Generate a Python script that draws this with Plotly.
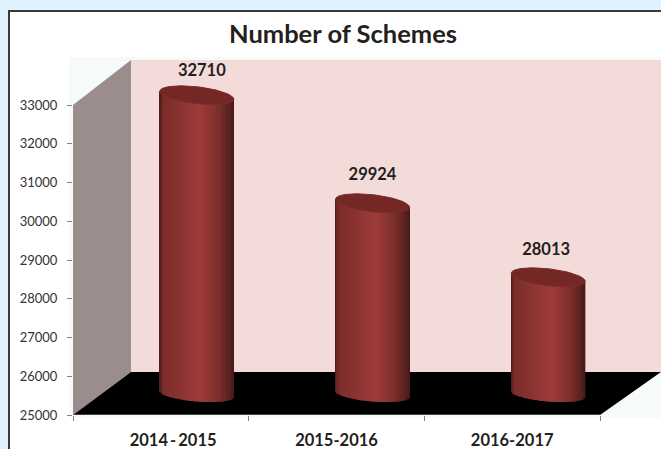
import numpy as np
import plotly.graph_objects as go

categories = ["2014\u2009-\u20092015", "2015-2016", "2016-2017"]
schemes = [32710, 29924, 28013]
y_ticks = [25000, 26000, 27000, 28000, 29000, 30000, 31000, 32000, 33000]

W, H = 661, 449
PX_X = 527 / 3            # pixels per category
PX_Y = 310 / 8000         # pixels per scheme
DX = 36 / PX_X            # depth offset of the bars
DY = 21 / PX_Y
BASE = 25000
XMAX = (661 - 73) / PX_X
YMAX = BASE + (415 - 60) / PX_Y
FONT = "Lato, Carlito, Calibri, sans-serif"
DEPTH_X = 58 / PX_X
DEPTH_Y = 43 / PX_Y

fig = go.Figure()

# cylinder body, drawn as narrow shaded strips
N = 60
half = 37 / PX_X
centers = np.arange(3) + 0.5 + DX
stops = [(0, (74, 28, 26)), (0.05, (122, 44, 42)), (0.55, (158, 59, 58)),
         (0.8, (124, 47, 45)), (0.95, (88, 33, 31)), (1, (70, 26, 24))]
for i in range(N):
    t0 = -1 + 2 * i / N
    tm = t0 + 1 / N
    u = (tm + 1) / 2
    col = [np.interp(u, [s[0] for s in stops], [s[1][k] for s in stops]) for k in range(3)]
    sag = (3 * tm + 7.5 * np.sqrt(max(0, 1 - tm * tm))) / PX_Y
    base = BASE + DY - sag
    tilt = (4 * tm) / PX_Y
    fig.add_trace(go.Bar(
        x=centers, y=[v + DY - base - tilt for v in schemes], base=[base] * 3,
        width=[2 * half / N * 1.15] * 3, offset=[tm * half - half / N] * 3,
        marker=dict(color=f"rgb({col[0]:.0f},{col[1]:.0f},{col[2]:.0f})", line_width=0),
        hoverinfo="skip", showlegend=False))

# cylinder caps
T = np.linspace(0, 2 * np.pi, 90)
for c, v in zip(centers, schemes):
    fig.add_trace(go.Scatter(
        x=c + half * np.cos(T),
        y=v + DY - (4 * np.cos(T) + 8.5 * np.sin(T)) / PX_Y,
        mode="lines", fill="toself", fillcolor="#742826", line=dict(color="#7c2c2a", width=1),
        hoverinfo="skip", showlegend=False))

# value labels
label_dx = [5, 0, -2]
label_dy = [23, 27, 26]
fig.add_trace(go.Scatter(
    x=[c + d / PX_X for c, d in zip(centers, label_dx)],
    y=[v + DY + d / PX_Y for v, d in zip(schemes, label_dy)],
    text=[str(v) for v in schemes], mode="text", textposition="middle center",
    textfont=dict(family=FONT, size=16.5, color="#231f20", weight="bold"),
    hoverinfo="skip", showlegend=False))

def poly(pts, fill):
    path = "M " + " L ".join(f"{x},{y}" for x, y in pts) + " Z"
    return dict(type="path", path=path, xref="x", yref="y", fillcolor=fill,
                line=dict(width=0), layer="below")

shapes = [
    # card and plot background, in page fractions
    dict(type="rect", xref="paper", yref="paper", x0=9 / W, x1=1.05, y0=-0.05, y1=1 - 11 / H,
         fillcolor="white", line=dict(color="#3a3a3c", width=2), layer="below"),
    dict(type="rect", xref="paper", yref="paper", x0=69 / W, x1=1, y0=1 - 418 / H, y1=1 - 57 / H,
         fillcolor="#f7fafa", line=dict(width=0), layer="below"),
    poly([(DEPTH_X, BASE + DEPTH_Y), (XMAX, BASE + DEPTH_Y), (XMAX, YMAX), (DEPTH_X, YMAX)], "#f3dbd9"),
    poly([(0, BASE), (DEPTH_X, BASE + DEPTH_Y), (DEPTH_X, YMAX), (0, 33000)], "#9b8d8b"),
    poly([(0, BASE), (3, BASE), (XMAX, BASE + DEPTH_Y), (DEPTH_X, BASE + DEPTH_Y)], "#000000"),
    dict(type="line", xref="x", yref="y", x0=0, x1=3, y0=BASE, y1=BASE,
         line=dict(color="#808080", width=1), layer="below"),
]

fig.update_layout(
    width=W, height=H, margin=dict(l=0, r=0, t=0, b=0, autoexpand=False), autosize=False,
    paper_bgcolor="#dff2fe", plot_bgcolor="rgba(0,0,0,0)", barmode="overlay", shapes=shapes,
    showlegend=False,
    annotations=[dict(text="<b>Number of Schemes</b>", xref="paper", yref="paper",
                      x=343 / W, y=1 - 33 / H, showarrow=False, xanchor="center", yanchor="middle",
                      font=dict(family=FONT, size=25.5, color="#231f20"))],
    xaxis=dict(domain=[73 / W, 1], range=[0, XMAX], showgrid=False, zeroline=False,
               showline=False, tickvals=[0.57, 1.5, 2.5], ticktext=categories, ticks="",
               tickfont=dict(family=FONT, size=16.5, color="#231f20", weight="bold"),
               ticklabelstandoff=13, automargin=False,
               minor=dict(tickvals=[0, 1, 2, 3], ticks="outside", ticklen=5, tickcolor="#808080", tickwidth=1)),
    yaxis=dict(domain=[34 / H, 1], range=[BASE, BASE + (415) / PX_Y], showgrid=False, zeroline=False,
               showline=False, tickvals=y_ticks, ticks="outside", ticklen=5, tickcolor="#808080",
               tickformat="d", automargin=False,
               tickfont=dict(family=FONT, size=13, color="#333333"), ticklabelstandoff=7),
)
fig.write_html("out.html", config={"displayModeBar": False},
               post_script="document.body.style.margin='0';document.body.style.overflow='hidden';")
